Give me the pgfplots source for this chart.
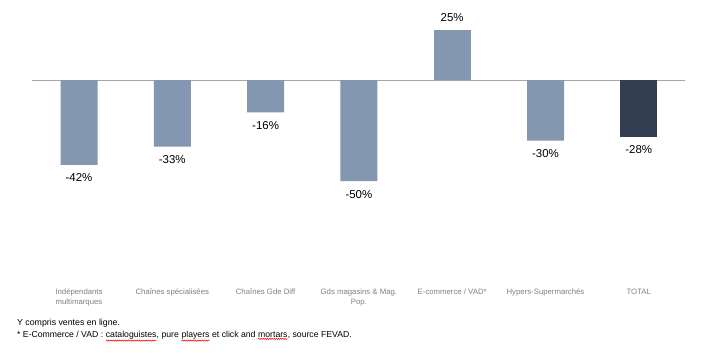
\documentclass[border=0pt]{standalone}
\usepackage{fontspec}
\setmainfont{Liberation Sans}
\usepackage{pgfplots}
\pgfplotsset{compat=1.18}
\usetikzlibrary{decorations.pathmorphing}
\definecolor{barlight}{HTML}{8497B0}
\definecolor{bardark}{HTML}{333F50}
\definecolor{zeroline}{HTML}{A6A6A6}
\definecolor{catgray}{HTML}{808080}
\newcommand\redwave[1]{\tikz[baseline=(w.base)]{\node[inner sep=0pt, outer sep=0pt, anchor=base](w){#1};\draw[red, line width=0.5pt, decorate, decoration={snake, amplitude=0.6pt, segment length=2.2pt}] ([yshift=-1.3pt]w.south west) -- ([yshift=-1.3pt]w.south east);}}
\begin{document}
\begin{tikzpicture}
\path[use as bounding box] (0,0) rectangle (720bp,362bp);
\begin{axis}[
  at={(32.35bp,81bp)}, anchor=south west,
  x=93.3bp, y=2.02bp,
  xmin=-0.5, xmax=6.5, ymin=-99.5, ymax=35,
  axis line style={draw=none},
  ybar, bar width=37bp, bar shift=0pt,
  xtick={0,...,6},
  xticklabels={{Indépendants\\multimarques},{Chaînes spécialisées},{Chaînes Gde Diff},{Gds magasins \& Mag.\\Pop.},{E-commerce / VAD*},{Hypers-Supermarchés},{TOTAL}},
  xtick style={draw=none},
  ytick=\empty,
  extra y ticks={0}, extra y tick labels={},
  extra y tick style={grid=major, major grid style={zeroline, line width=0.9bp}, tick style={draw=none}},
  xticklabel style={font=\fontsize{7.8}{10}\selectfont, text=catgray, align=center},
  clip=false,
  nodes near coords, point meta=explicit symbolic,
  every node near coord/.append style={font=\fontsize{11.5}{13}\selectfont, text=black},
]
\addplot[fill=barlight, draw=none, every node near coord/.append style={anchor=north, yshift=-5.5bp}] table[meta=lab] {
x y lab
0 -42 -42\%
1 -33 -33\%
2 -16 -16\%
3 -50 -50\%
5 -30 -30\%
};
\addplot[fill=barlight, draw=none, every node near coord/.append style={anchor=south, yshift=4bp}] table[meta=lab] {
x y lab
4 25 25\%
};
\addplot[fill=bardark, draw=none, every node near coord/.append style={anchor=north, yshift=-5.5bp}] table[meta=lab] {
x y lab
6 -28 -28\%
};
\end{axis}
\node[anchor=base west, inner sep=0pt, font=\fontsize{8.8}{11}\selectfont] at (17bp,36.5bp) {Y compris ventes en ligne.};
\node[anchor=base west, inner sep=0pt, font=\fontsize{8.7}{11}\selectfont] at (17bp,24.5bp) {* E-Commerce / VAD : \redwave{cataloguistes}, pure \redwave{players} et click and \redwave{mortars}, source FEVAD.};
\end{tikzpicture}
\end{document}
